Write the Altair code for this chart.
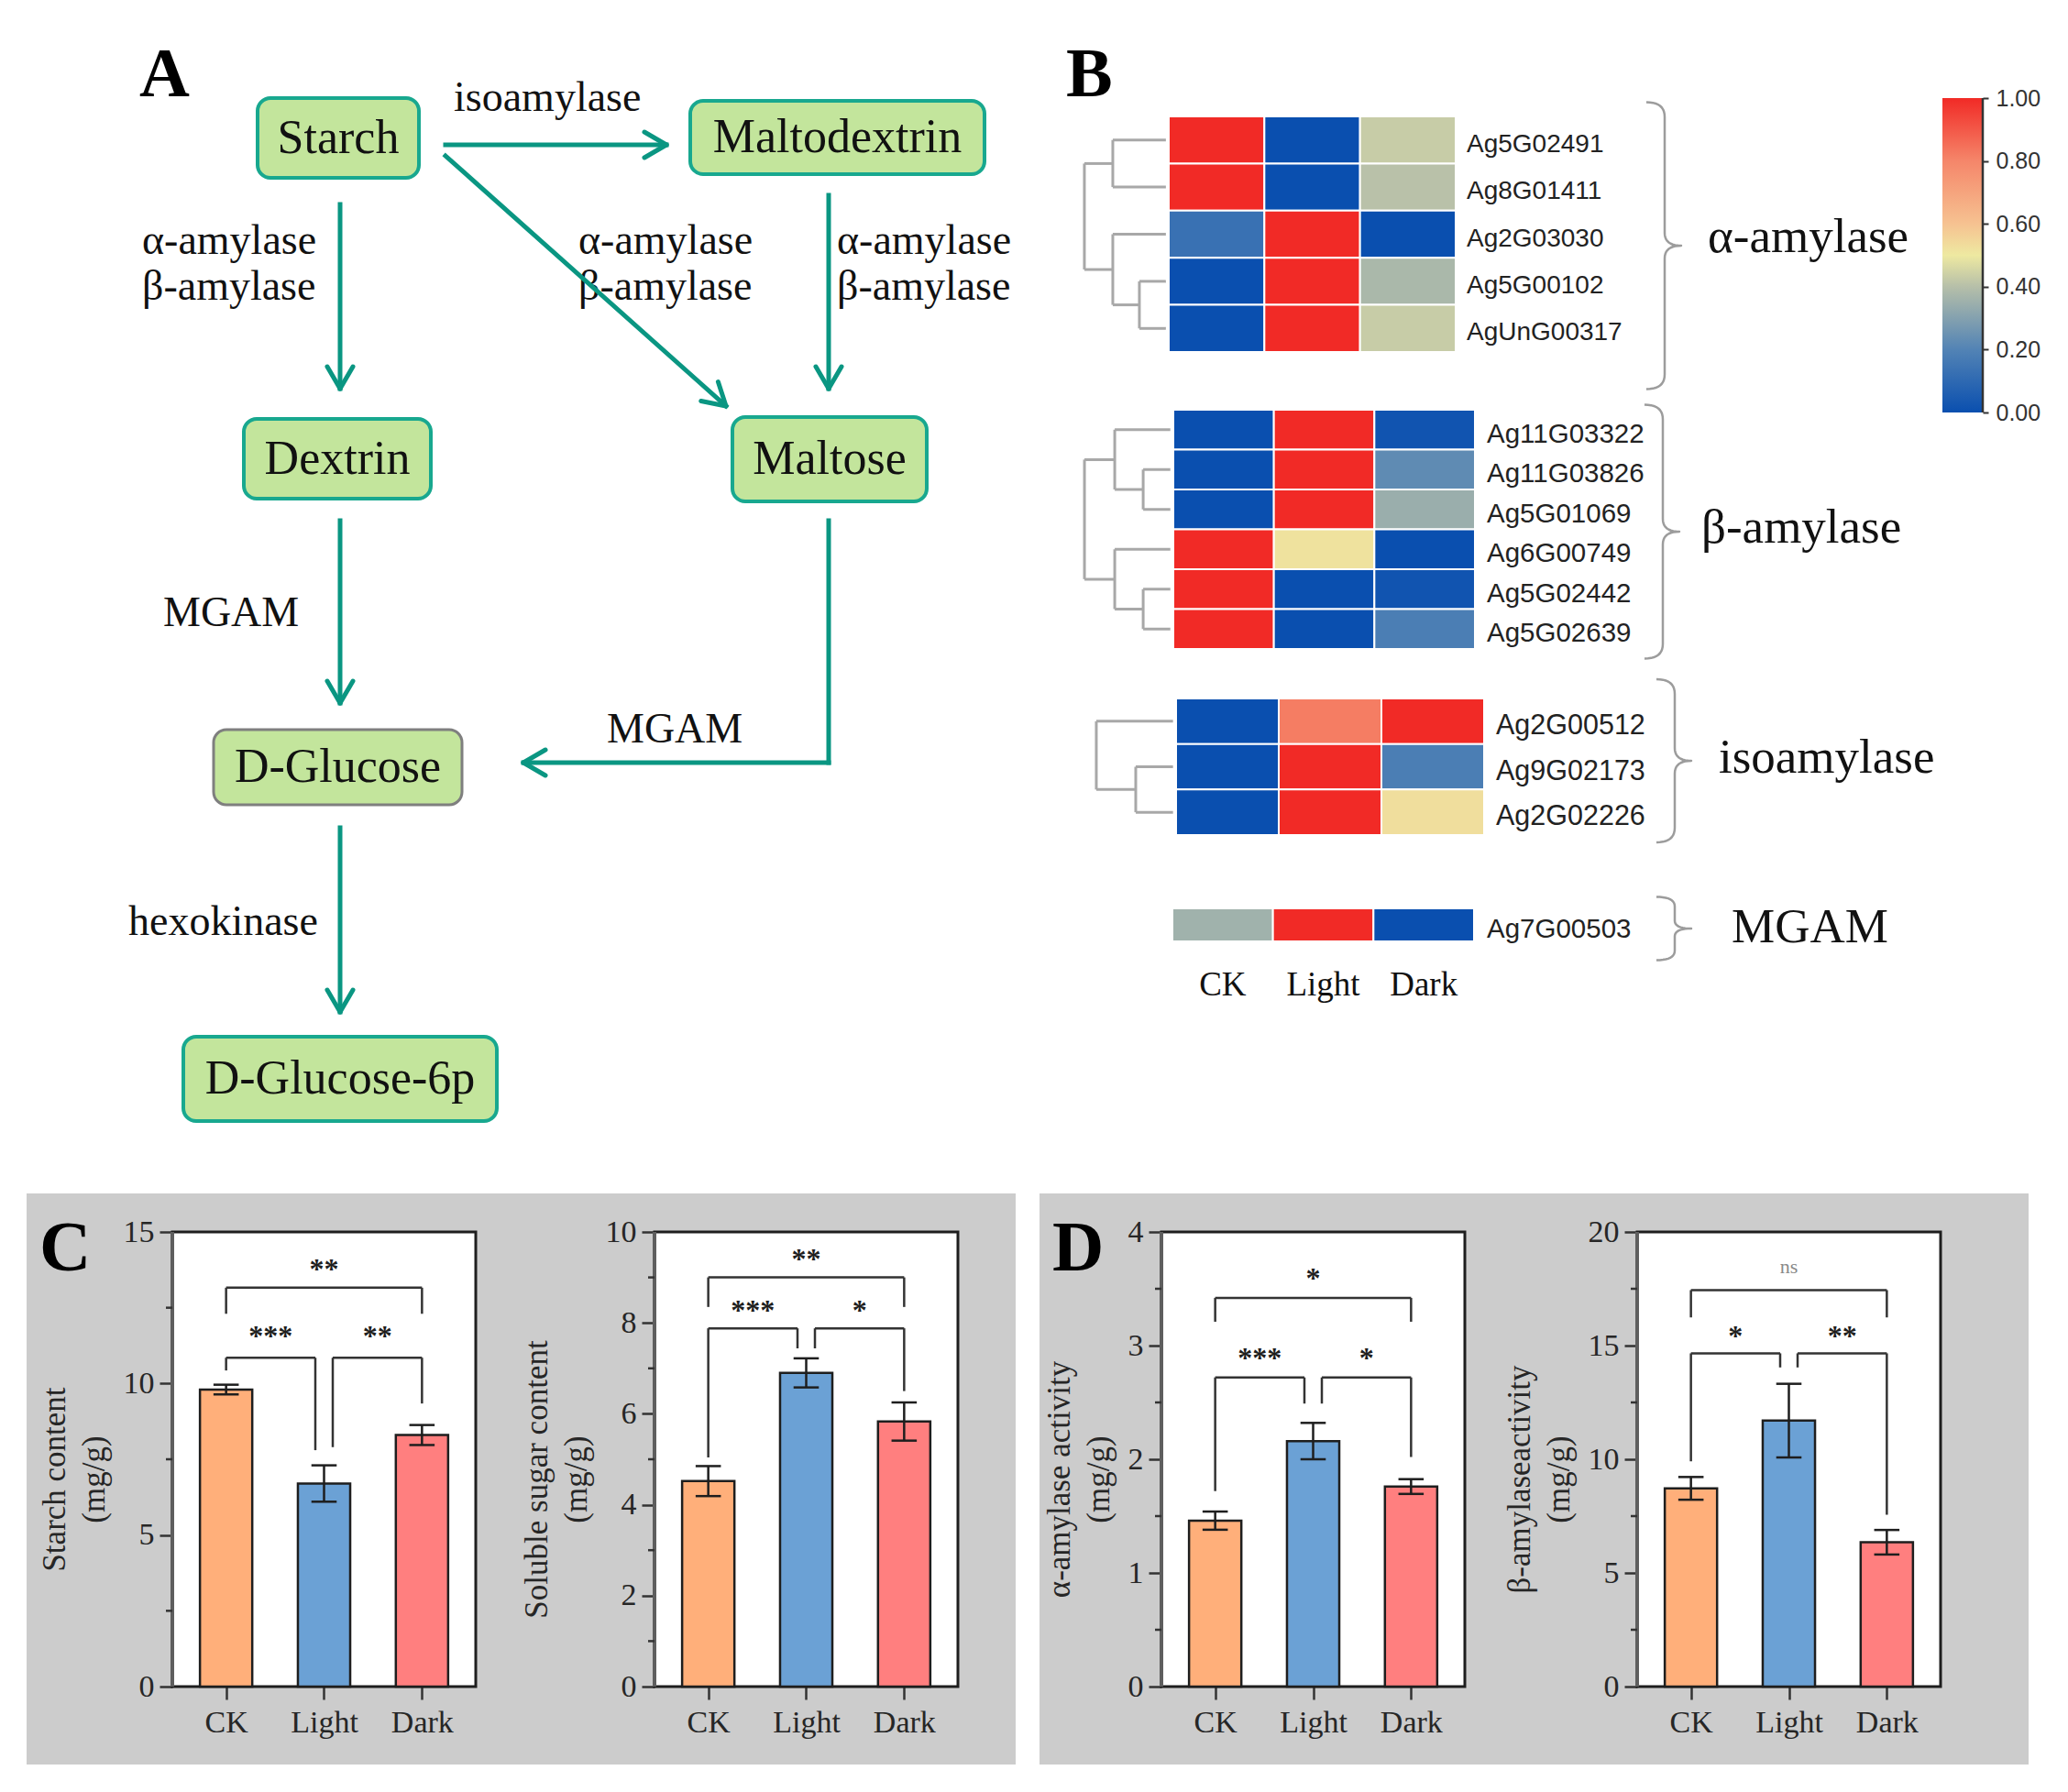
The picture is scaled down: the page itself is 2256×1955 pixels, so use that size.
import math
import altair as alt
import pandas as pd

SERIF = "Liberation Serif"
SANS = "Liberation Sans"
INK = "#1E1E1E"
AXIS_INK = "#333333"
TEAL = "#0A9682"
BOX_FILL = "#C3E59C"
BOX_EDGE = "#18A88F"
GLUCOSE_EDGE = "#7F7F7F"
PANEL_GRAY = "#CCCCCC"

# ======================= data =======================
conditions = ["CK", "Light", "Dark"]
bar_colors = ["#FFAF7A", "#6BA1D5", "#FF7F7F"]

starch_mean = [9.8, 6.7, 8.3]
starch_err = [0.16, 0.6, 0.33]
starch_br_y = [13.16, 10.85, 10.85]          # CK-Dark, CK-Light, Light-Dark
starch_leg_end = [[12.3, 12.3], [10.43, 7.8], [7.9, 9.34]]
starch_sig = ["**", "***", "**"]
starch_sig_y = [13.9, 11.7, 11.7]

sugar_mean = [4.52, 6.9, 5.83]
sugar_err = [0.33, 0.32, 0.42]
sugar_br_y = [9.0, 7.88, 7.88]
sugar_leg_end = [[8.35, 8.35], [5.04, 7.44], [7.44, 6.5]]
sugar_sig = ["**", "***", "*"]
sugar_sig_y = [9.49, 8.37, 8.37]

aamy_mean = [1.46, 2.16, 1.76]
aamy_err = [0.08, 0.16, 0.065]
aamy_br_y = [3.42, 2.72, 2.72]
aamy_leg_end = [[3.21, 3.21], [1.72, 2.49], [2.49, 2.02]]
aamy_sig = ["*", "***", "*"]
aamy_sig_y = [3.63, 2.93, 2.93]

bamy_mean = [8.72, 11.7, 6.35]
bamy_err = [0.5, 1.62, 0.54]
bamy_br_y = [17.44, 14.66, 14.66]
bamy_leg_end = [[16.24, 16.24], [9.91, 14.04], [14.04, 7.56]]
bamy_sig = ["ns", "*", "**"]
bamy_sig_y = [18.4, 15.6, 15.6]

heat_groups = ["α-amylase", "β-amylase", "isoamylase", "MGAM"]
alpha_genes = ["Ag5G02491", "Ag8G01411", "Ag2G03030", "Ag5G00102", "AgUnG00317"]
alpha_vals = [[1.0, 0.0, 0.43], [1.0, 0.0, 0.405], [0.13, 1.0, 0.0],
              [0.0, 1.0, 0.376], [0.0, 1.0, 0.43]]
beta_genes = ["Ag11G03322", "Ag11G03826", "Ag5G01069", "Ag6G00749",
              "Ag5G02442", "Ag5G02639"]
beta_vals = [[0.0, 1.0, 0.02], [0.0, 1.0, 0.226], [0.0, 1.0, 0.344],
             [1.0, 0.518, 0.0], [1.0, 0.0, 0.02], [1.0, 0.0, 0.18]]
iso_genes = ["Ag2G00512", "Ag9G02173", "Ag2G02226"]
iso_vals = [[0.0, 0.82, 1.0], [0.0, 1.0, 0.18], [0.0, 1.0, 0.528]]
mgam_genes = ["Ag7G00503"]
mgam_vals = [[0.356, 1.0, 0.0]]

# dendrograms: (left, right, merge distance in column widths); ints are rows
alpha_tree = ((0, 1, 0.585), (2, (3, 4, 0.307), 0.585), 0.882)
beta_tree = ((0, (1, 2, 0.30), 0.583), (3, (4, 5, 0.30), 0.583), 0.884)
iso_tree = (0, (1, 2, 0.393), 0.777)

heat_stops = [0.0, 0.2, 0.4, 0.5, 0.6, 0.8, 1.0]
heat_colors = ["#0A4FAF", "#5283B5", "#B6BFA9", "#EEE9A1", "#F6C291", "#F5866A", "#F12A26"]
colorbar_ticks = [0.0, 0.2, 0.4, 0.6, 0.8, 1.0]

path_nodes = ["Starch", "Maltodextrin", "Dextrin", "Maltose", "D-Glucose", "D-Glucose-6p"]
enzyme_labels = ["isoamylase", "α-amylase", "β-amylase", "α-amylase", "β-amylase",
                 "α-amylase", "β-amylase", "MGAM", "MGAM", "hexokinase"]

# ======================= layout (pixels in the top panel) =======================
TW, TH = 2240, 1294
node_boxes = [(273, 99, 449, 186), (745, 102, 1066, 182), (258, 449, 462, 536),
              (791, 447, 1003, 539), (225, 788, 496, 870), (192, 1123, 534, 1215)]
node_edges = [BOX_EDGE, BOX_EDGE, BOX_EDGE, BOX_EDGE, GLUCOSE_EDGE, BOX_EDGE]
enzyme_pos = [(487, 113), (147, 269), (147, 319), (623, 269), (623, 319),
              (905, 269), (905, 319), (170, 675), (654, 802), (132, 1012)]
arrow_segments = [(478, 150, 719, 150, True), (478, 162, 784, 435, True),
                  (363, 215, 363, 416, True), (896, 205, 896, 416, True),
                  (363, 560, 363, 759, True), (896, 560, 896, 824, False),
                  (896, 824, 563, 824, True), (363, 895, 363, 1096, True)]
HEAD_L, HEAD_W = 24, 14
panel_letters = [("A", 144, 97), ("B", 1155, 97)]
# heat blocks: (x0, y0, width, height, gene font, label dx)
heat_geo = [(1267, 119, 313, 257, 28, 12), (1272, 439, 329, 261, 29.5, 13),
            (1275, 754, 336, 149, 30.5, 13), (1271, 983, 329, 36, 29.5, 14)]
brace_geo = [(1808, 260, 156.5), (1806, 572, 138.5), (1819, 822, 89), (1819, 1005, 34.5)]
group_label_pos = [(1855, 251), (1848, 568), (1867, 819), (1881, 1004)]
col_label_base = 1078
CB_X0, CB_X1, CB_TOP, CB_BOT = 2111, 2155, 99, 442


def PX(f):
    return alt.X(f + ":Q", scale=alt.Scale(domain=[0, TW], nice=False, zero=False), axis=None)


def PY(f):
    return alt.Y(f + ":Q", scale=alt.Scale(domain=[0, TH], nice=False, zero=False, reverse=True),
                 axis=None)


top_layers = []

# ---------- panel A ----------
nodes_df = pd.DataFrame({
    "name": path_nodes,
    "x1": [b[0] for b in node_boxes], "y1": [b[1] for b in node_boxes],
    "x2": [b[2] for b in node_boxes], "y2": [b[3] for b in node_boxes],
    "edge": node_edges,
    "ew": [3 if e == GLUCOSE_EDGE else 4 for e in node_edges],
})
nodes_df["cx"] = (nodes_df.x1 + nodes_df.x2) / 2
nodes_df["cy"] = (nodes_df.y1 + nodes_df.y2) / 2

enz_df = pd.DataFrame({"t": enzyme_labels, "x": [p[0] for p in enzyme_pos],
                       "y": [p[1] for p in enzyme_pos]})
shaft_rows, head_rows = [], []
for x1, y1, x2, y2, h in arrow_segments:
    shaft_rows.append(dict(x1=x1, y1=y1, x2=x2, y2=y2))
    if h:
        th = math.atan2(y2 - y1, x2 - x1)
        c, s = math.cos(th), math.sin(th)
        for sg in (1, -1):
            head_rows.append(dict(x1=x2 - HEAD_L * c - sg * HEAD_W * s,
                                  y1=y2 - HEAD_L * s + sg * HEAD_W * c, x2=x2, y2=y2))

top_layers.append(alt.Chart(enz_df).mark_text(
    align="left", baseline="alphabetic", font=SERIF, fontSize=46, color="#111").encode(
    x=PX("x"), y=PY("y"), text="t:N"))
top_layers.append(alt.Chart(pd.DataFrame(shaft_rows)).mark_rule(
    color=TEAL, strokeWidth=5, strokeCap="square").encode(
    x=PX("x1"), x2="x2:Q", y=PY("y1"), y2="y2:Q"))
top_layers.append(alt.Chart(pd.DataFrame(head_rows)).mark_rule(
    color=TEAL, strokeWidth=5, strokeCap="round").encode(
    x=PX("x1"), x2="x2:Q", y=PY("y1"), y2="y2:Q"))
top_layers.append(alt.Chart(nodes_df).mark_rect(cornerRadius=14, fill=BOX_FILL).encode(
    x=PX("x1"), x2="x2:Q", y=PY("y1"), y2="y2:Q",
    stroke=alt.Stroke("edge:N", scale=None),
    strokeWidth=alt.StrokeWidth("ew:Q", scale=None)))
top_layers.append(alt.Chart(nodes_df).mark_text(
    font=SERIF, fontSize=52, color="#111", baseline="middle", align="center").encode(
    x=PX("cx"), y=PY("cy"), text="name:N"))
top_layers.append(alt.Chart(pd.DataFrame(panel_letters, columns=["t", "x", "y"])).mark_text(
    font=SERIF, fontSize=76, fontWeight="bold", align="left", baseline="alphabetic",
    color="#000").encode(x=PX("x"), y=PY("y"), text="t:N"))


# ---------- panel B ----------
def dendro_segments(tree, leaf_gap=0.03):
    segs = []

    def walk(node):
        if isinstance(node, int):
            return node + 0.5, -leaf_gap
        l, r, h = node
        ya, xa = walk(l)
        yb, xb = walk(r)
        hx = -h
        segs.append(dict(x1=xa, x2=hx, y1=ya, y2=ya))
        segs.append(dict(x1=xb, x2=hx, y1=yb, y2=yb))
        segs.append(dict(x1=hx, x2=hx, y1=ya, y2=yb))
        return (ya + yb) / 2, hx

    walk(tree)
    return pd.DataFrame(segs)


def brace_points(cx, cy, H, rw=20.0, tip=18.0):
    rv = min(16.0, H * 0.3)
    t = min(14.0, H * 0.25)

    def quad(p0, c, p1, n=10):
        out = []
        for k in range(n + 1):
            u = k / n
            out.append(((1 - u) ** 2 * p0[0] + 2 * (1 - u) * u * c[0] + u * u * p1[0],
                        (1 - u) ** 2 * p0[1] + 2 * (1 - u) * u * c[1] + u * u * p1[1]))
        return out

    pts = quad((cx - rw, cy - H), (cx, cy - H), (cx, cy - H + rv))
    pts += quad((cx, cy - t), (cx, cy), (cx + tip, cy))
    pts += quad((cx + tip, cy), (cx, cy), (cx, cy + t))[1:]
    pts += quad((cx, cy + H - rv), (cx, cy + H), (cx - rw, cy + H))
    return pts


def heat_layers(genes, vals, tree, geo, col_labels=False):
    x0, y0, W, H, fs, dx = geo
    n = len(genes)
    colw, rowh = W / 3, H / n
    xlo = -x0 / colw
    ylo = -y0 / rowh

    def HX(f):
        return alt.X(f + ":Q", scale=alt.Scale(domain=[xlo, xlo + TW / colw], nice=False,
                                               zero=False), axis=None)

    def HY(f):
        return alt.Y(f + ":Q", scale=alt.Scale(domain=[ylo, ylo + TH / rowh], nice=False,
                                               zero=False, reverse=True), axis=None)

    rows = []
    for i, g in enumerate(genes):
        for j, cnd in enumerate(conditions):
            rows.append(dict(gene=g, cond=cnd, c0=j, c1=j + 1, r0=i, r1=i + 1, v=vals[i][j]))
    out = [alt.Chart(pd.DataFrame(rows)).mark_rect(stroke="white", strokeWidth=2).encode(
        x=HX("c0"), x2="c1:Q", y=HY("r0"), y2="r1:Q",
        color=alt.Color("v:Q", scale=alt.Scale(domain=heat_stops, range=heat_colors,
                                               interpolate="rgb"), legend=None))]
    if tree is not None:
        out.append(alt.Chart(dendro_segments(tree)).mark_rule(
            color="#A8A8A8", strokeWidth=3).encode(
            x=HX("x1"), x2="x2:Q", y=HY("y1"), y2="y2:Q"))
    lab = pd.DataFrame({"gene": genes, "xl": [3] * n, "ym": [i + 0.5 for i in range(n)]})
    out.append(alt.Chart(lab).mark_text(align="left", baseline="middle", dx=dx, dy=5,
                                        font=SANS, fontSize=fs, color="#222").encode(
        x=HX("xl"), y=HY("ym"), text="gene:N"))
    if col_labels:
        cl = pd.DataFrame({"cond": conditions, "xc": [j + 0.5 for j in range(3)]})
        out.append(alt.Chart(cl).mark_text(align="center", baseline="alphabetic", font=SERIF,
                                           fontSize=37, color="#111").encode(
            x=HX("xc"), y=alt.value(col_label_base), text="cond:N"))
    return out


top_layers += heat_layers(alpha_genes, alpha_vals, alpha_tree, heat_geo[0])
top_layers += heat_layers(beta_genes, beta_vals, beta_tree, heat_geo[1])
top_layers += heat_layers(iso_genes, iso_vals, iso_tree, heat_geo[2])
top_layers += heat_layers(mgam_genes, mgam_vals, None, heat_geo[3], col_labels=True)

brace_rows = []
for bi, (cx, cy, H) in enumerate(brace_geo):
    for k, (px, py) in enumerate(brace_points(cx, cy, H)):
        brace_rows.append(dict(b=bi, k=k, x=px, y=py))
top_layers.append(alt.Chart(pd.DataFrame(brace_rows)).mark_line(
    color="#9C9C9C", strokeWidth=2.5, strokeJoin="round").encode(
    x=PX("x"), y=PY("y"), detail="b:N", order="k:Q"))
top_layers.append(alt.Chart(pd.DataFrame({
    "g": heat_groups, "x": [p[0] for p in group_label_pos],
    "y": [p[1] for p in group_label_pos]})).mark_text(
    align="left", baseline="middle", font=SERIF, fontSize=53, color="#111").encode(
    x=PX("x"), y=PY("y"), text="g:N"))

# colour bar
cb_ppu = CB_BOT - CB_TOP
cb_scale_dom = [-(TH - CB_BOT) / cb_ppu, 1 + CB_TOP / cb_ppu]
grad = alt.LinearGradient(
    gradient="linear",
    stops=[alt.GradientStop(color=c, offset=o) for o, c in zip(heat_stops, heat_colors)],
    x1=0, x2=0, y1=1, y2=0)
cb_df = pd.DataFrame({"lo": [0.0], "hi": [1.0]})
top_layers.append(alt.Chart(cb_df).mark_rect(fill=grad).encode(
    x=alt.value(CB_X0), x2=alt.value(CB_X1),
    y=alt.Y("lo:Q", scale=alt.Scale(domain=cb_scale_dom, nice=False, zero=False),
            axis=alt.Axis(orient="right", offset=CB_X1 - TW, values=colorbar_ticks,
                          format=".2f", title=None, grid=False, domain=False,
                          tickColor=AXIS_INK, tickWidth=2, tickSize=6, labelPadding=8,
                          labelFont=SANS, labelFontSize=25, labelColor="#333",
                          labelFlush=False, labelOverlap=False)),
    y2="hi:Q"))
top_layers.append(alt.Chart(cb_df).mark_rule(color=AXIS_INK, strokeWidth=2.5).encode(
    x=alt.value(CB_X1),
    y=alt.Y("lo:Q", scale=alt.Scale(domain=cb_scale_dom, nice=False, zero=False), axis=None),
    y2="hi:Q"))

TOP = alt.layer(*top_layers).resolve_scale(x="independent", y="independent").properties(
    width=TW, height=TH)

# ======================= panels C & D =======================
PW, PH = 331, 496
VH, PTOP, PBOT = 623, 42, 538
XDOM = [-0.549, 2.549]
PPU = PW / (XDOM[1] - XDOM[0])
BAR_HALF = 0.267
CAP_HALF = 0.129
LEG_GAP = 0.089
PAIRS = [(0, 2), (0, 1), (1, 2)]


def bar_chart(means, errs, ymax, major, minor, title, br_y, leg_end, sig, sig_y,
              view_w, L, strip=0, letter=None):
    df = pd.DataFrame({"pos": [0, 1, 2], "cond": conditions, "mean": means,
                       "err": errs, "color": bar_colors})
    xs = alt.Scale(domain=[XDOM[0] - L / PPU, XDOM[1] + (view_w - L - PW) / PPU],
                   nice=False, zero=False)
    ypu = PH / ymax
    ys = alt.Scale(domain=[-(VH - PBOT) / ypu, ymax + PTOP / ypu], nice=False, zero=False)
    x_axis = alt.Axis(values=[0, 1, 2], labelExpr=f"{conditions}[datum.value]", title=None,
                      grid=False, domain=False, offset=PBOT - VH, tickColor=AXIS_INK,
                      tickWidth=2.5, tickSize=14, labelFont=SERIF, labelFontSize=34,
                      labelColor="#262626", labelPadding=8, labelFlush=False,
                      labelOverlap=False)
    y_axis = alt.Axis(values=major, format="d", title=title, grid=False, domain=False,
                      offset=-L, tickColor=AXIS_INK, tickWidth=2.5, tickSize=14,
                      labelFont=SERIF, labelFontSize=34, labelColor="#262626",
                      labelPadding=6, labelFlush=False, labelOverlap=False,
                      titleFont=SERIF, titleFontSize=35, titleFontWeight="normal",
                      titleColor="#262626", titlePadding=14, titleLineHeight=43)
    one = pd.DataFrame({"k": [0]})
    layers = []
    if strip:
        layers.append(alt.Chart(one).mark_rect(fill="white").encode(
            x=alt.value(0), x2=alt.value(strip), y=alt.value(0), y2=alt.value(VH)))
    layers.append(alt.Chart(one).mark_rect(fill="white", stroke=INK, strokeWidth=3).encode(
        x=alt.value(L), x2=alt.value(L + PW), y=alt.value(PTOP), y2=alt.value(PBOT)))
    layers.append(alt.Chart(one).mark_rule(color="#5E5E5E", strokeWidth=4).encode(
        x=alt.value(L), y=alt.value(PTOP), y2=alt.value(PBOT)))
    base = alt.Chart(df).transform_calculate(
        xl=f"datum.pos - {BAR_HALF}", xr=f"datum.pos + {BAR_HALF}",
        cl=f"datum.pos - {CAP_HALF}", cr=f"datum.pos + {CAP_HALF}",
        lo="datum.mean - datum.err", hi="datum.mean + datum.err", z="0")
    layers.append(base.mark_rect(stroke=INK, strokeWidth=2.5).encode(
        x=alt.X("xl:Q", scale=xs, axis=x_axis), x2="xr:Q",
        y=alt.Y("mean:Q", scale=ys, axis=y_axis), y2="z:Q",
        fill=alt.Fill("color:N", scale=None)))
    layers.append(alt.Chart(pd.DataFrame({"m": minor})).mark_rule(
        color=AXIS_INK, strokeWidth=2.5).encode(
        x=alt.value(L - 7), x2=alt.value(L), y=alt.Y("m:Q", scale=ys)))
    layers.append(base.mark_rule(color=INK, strokeWidth=2.5).encode(
        x=alt.X("pos:Q", scale=xs), y=alt.Y("lo:Q", scale=ys), y2="hi:Q"))
    for f in ("hi", "lo"):
        layers.append(base.mark_rule(color=INK, strokeWidth=2.5).encode(
            x=alt.X("cl:Q", scale=xs), x2="cr:Q", y=alt.Y(f + ":Q", scale=ys)))
    segs, labs = [], []
    for (a, b), yb, (la, lb), s, sy in zip(PAIRS, br_y, leg_end, sig, sig_y):
        xa = a + (LEG_GAP if a == 1 else 0)
        xb = b - (LEG_GAP if b == 1 else 0)
        segs += [dict(x1=xa, x2=xb, y1=yb, y2=yb), dict(x1=xa, x2=xa, y1=yb, y2=la),
                 dict(x1=xb, x2=xb, y1=yb, y2=lb)]
        labs.append(dict(t=s, tx=(xa + xb) / 2, ty=sy, ns=(s == "ns")))
    layers.append(alt.Chart(pd.DataFrame(segs)).mark_rule(
        color=AXIS_INK, strokeWidth=2.5).encode(
        x=alt.X("x1:Q", scale=xs), x2="x2:Q", y=alt.Y("y1:Q", scale=ys), y2="y2:Q"))
    labs = pd.DataFrame(labs)
    stars = labs[~labs.ns]
    nss = labs[labs.ns]
    if len(stars):
        layers.append(alt.Chart(stars).mark_text(font=SERIF, fontSize=32, fontWeight="bold",
                                                 baseline="alphabetic", dy=15,
                                                 color=INK).encode(
            x=alt.X("tx:Q", scale=xs), y=alt.Y("ty:Q", scale=ys), text="t:N"))
    if len(nss):
        layers.append(alt.Chart(nss).mark_text(font=SERIF, fontSize=22, baseline="alphabetic",
                                               dy=5, color="#8A8A8A").encode(
            x=alt.X("tx:Q", scale=xs), y=alt.Y("ty:Q", scale=ys), text="t:N"))
    if letter is not None:
        layers.append(alt.Chart(pd.DataFrame({"t": [letter[0]]})).mark_text(
            font=SERIF, fontSize=78, fontWeight="bold", align="left",
            baseline="alphabetic", color="#000").encode(
            x=alt.value(letter[1]), y=alt.value(letter[2]), text="t:N"))
    return alt.layer(*layers).properties(
        width=view_w, height=VH, view=alt.ViewBackground(fill=PANEL_GRAY, stroke=None))


C1 = bar_chart(starch_mean, starch_err, 15, [0, 5, 10, 15], [2.5, 7.5, 12.5],
               ["Starch content", "(mg/g)"], starch_br_y, starch_leg_end, starch_sig,
               starch_sig_y, 537, 180, strip=21, letter=("C", 35, 84))
C2 = bar_chart(sugar_mean, sugar_err, 10, [0, 2, 4, 6, 8, 10], [1, 3, 5, 7, 9],
               ["Soluble sugar content", "(mg/g)"], sugar_br_y, sugar_leg_end, sugar_sig,
               sugar_sig_y, 563, 169)
D1 = bar_chart(aamy_mean, aamy_err, 4, [0, 1, 2, 3, 4], [0.5, 1.5, 2.5, 3.5],
               ["α-amylase activity", "(mg/g)"], aamy_br_y, aamy_leg_end, aamy_sig,
               aamy_sig_y, 517, 159, strip=26, letter=("D", 40, 84))
D2 = bar_chart(bamy_mean, bamy_err, 20, [0, 5, 10, 15, 20], [2.5, 7.5, 12.5, 17.5],
               ["β-amylaseactivity", "(mg/g)"], bamy_br_y, bamy_leg_end, bamy_sig,
               bamy_sig_y, 588, 161)

BOTTOM = alt.hconcat(C1, C2, D1, D2, spacing=0)
chart = alt.vconcat(TOP, BOTTOM, spacing=0).properties(
    padding=0, background="white").configure_view(stroke=None)

chart.save("out.html", embed_options={"renderer": "svg", "actions": False})
